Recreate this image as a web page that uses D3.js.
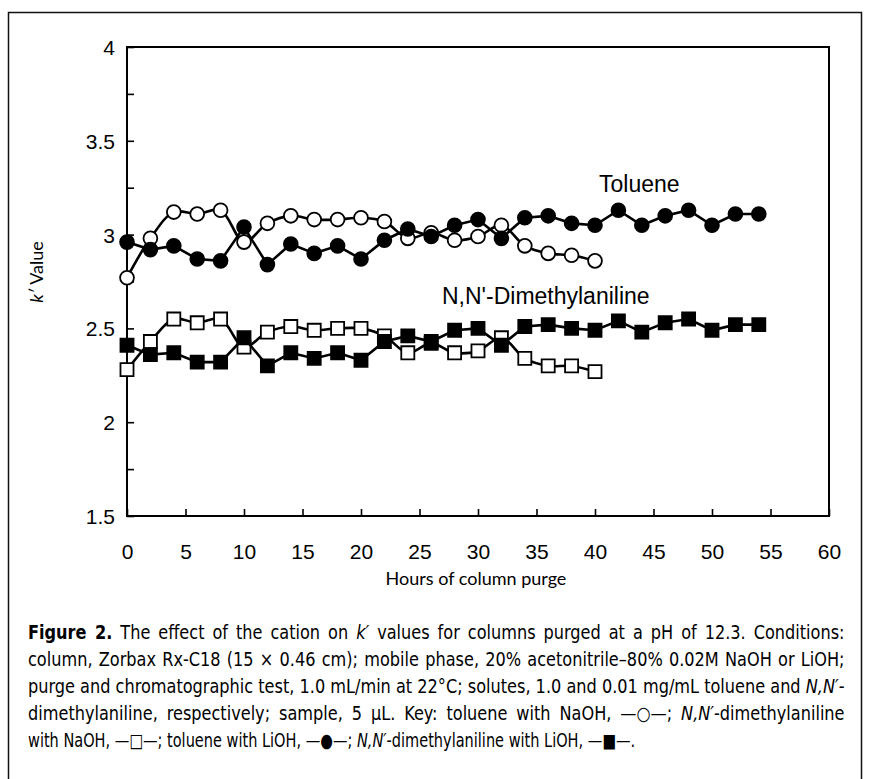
<!DOCTYPE html>
<html>
<head>
<meta charset="utf-8">
<script src="https://cdn.jsdelivr.net/npm/d3@7/dist/d3.min.js"></script>
<style>
  html, body { margin: 0; padding: 0; background: #fff; }
  svg { display: block; }
</style>
</head>
<body>
<svg id="chart" width="869" height="779"></svg>
<script>
// ---- data ----
const hoursNaOH = [0,2,4,6,8,10,12,14,16,18,20,22,24,26,28,30,32,34,36,38,40];
const hoursLiOH = [0,2,4,6,8,10,12,14,16,18,20,22,24,26,28,30,32,34,36,38,40,42,44,46,48,50,52,54];
const tolueneNaOH = [2.77,2.98,3.12,3.11,3.13,2.96,3.06,3.10,3.08,3.08,3.09,3.07,2.98,3.01,2.97,2.99,3.05,2.94,2.90,2.89,2.86];
const tolueneLiOH = [2.96,2.92,2.94,2.87,2.86,3.04,2.84,2.95,2.90,2.94,2.87,2.97,3.03,2.99,3.05,3.08,2.98,3.09,3.10,3.06,3.05,3.13,3.05,3.10,3.13,3.05,3.11,3.11];
const dmaNaOH = [2.28,2.43,2.55,2.53,2.55,2.40,2.48,2.51,2.49,2.50,2.50,2.46,2.37,2.42,2.37,2.38,2.45,2.34,2.30,2.30,2.27];
const dmaLiOH = [2.41,2.36,2.37,2.32,2.32,2.45,2.30,2.37,2.34,2.37,2.33,2.43,2.46,2.43,2.49,2.50,2.41,2.51,2.52,2.50,2.49,2.54,2.48,2.53,2.55,2.49,2.52,2.52];
const xTicks = [0,5,10,15,20,25,30,35,40,45,50,55,60];
const yTicks = [1.5,1.75,2,2.25,2.5,2.75,3,3.25,3.5,3.75,4];
const yLabels = [1.5,2,2.5,3,3.5,4];
const captionLines = [
  [["b","Figure 2."],["n"," The effect of the cation on "],["i","k′"],["n"," values for columns purged at a pH of 12.3. Conditions:"]],
  [["n","column, Zorbax Rx-C18 (15 × 0.46 cm); mobile phase, 20% acetonitrile–80% 0.02M NaOH or LiOH;"]],
  [["n","purge and chromatographic test, 1.0 mL/min at 22°C; solutes, 1.0 and 0.01 mg/mL toluene and "],["i","N,N′"],["n","-"]],
  [["n","dimethylaniline, respectively; sample, 5 µL. Key: toluene with NaOH, —○—; "],["i","N,N′"],["n","-dimethylaniline"]],
  [["n","with NaOH, —□—; toluene with LiOH, —●—; "],["i","N,N′"],["n","-dimethylaniline with LiOH, —■—."]]
];

// ---- layout ----
const svg = d3.select("#chart");
const L = 127, R = 829, T = 47, B = 516;
const x = d3.scaleLinear().domain([0,60]).range([L,R]);
const y = d3.scaleLinear().domain([1.5,4]).range([B,T]);

// outer border (open at bottom)
svg.append("path")
  .attr("d", `M8.5,779 L8.5,12.5 L861.5,12.5 L861.5,779`)
  .attr("fill","none").attr("stroke","#111").attr("stroke-width",1.5);

// plot frame
svg.append("rect").attr("x",L).attr("y",T).attr("width",R-L).attr("height",B-T)
  .attr("fill","none").attr("stroke","#000").attr("stroke-width",2);

const tickFont = "'Liberation Sans', Arial, Helvetica, sans-serif";

// y axis
const yAxis = d3.axisLeft(y).tickValues(yTicks).tickSizeInner(-7).tickSizeOuter(0).tickPadding(12)
  .tickFormat(d => yLabels.includes(d) ? d3.format("")(d) : "");
const gy = svg.append("g").attr("transform",`translate(${L},0)`).call(yAxis);
gy.select(".domain").remove();
gy.selectAll(".tick line").attr("stroke","#000").attr("stroke-width",1.6);
gy.selectAll(".tick text").attr("font-family",tickFont).attr("font-size",21).attr("fill","#000").attr("dy","0.36em");

// x axis
const xAxis = d3.axisBottom(x).tickValues(xTicks).tickSizeInner(-7).tickSizeOuter(0).tickPadding(24)
  .tickFormat(d3.format("d"));
const gx = svg.append("g").attr("transform",`translate(0,${B})`).call(xAxis);
gx.select(".domain").remove();
gx.selectAll(".tick line").attr("stroke","#000").attr("stroke-width",1.6);
gx.selectAll(".tick text").attr("font-family",tickFont).attr("font-size",21).attr("fill","#000").attr("dy","0.9em");

// axis titles
const titleFont = "Lato, 'Open Sans', sans-serif";
svg.append("text").attr("x",476).attr("y",585).attr("text-anchor","middle")
  .attr("font-family",titleFont).attr("font-size",18).attr("fill","#000")
  .text("Hours of column purge");
const yt = svg.append("text").attr("transform","translate(43,272) rotate(-90)").attr("text-anchor","middle")
  .attr("font-family",titleFont).attr("font-size",18).attr("fill","#000");
yt.append("tspan").attr("font-style","italic").text("k′");
yt.append("tspan").text(" Value");

// series
function series(xs, ys, curve, shape, filled) {
  const pts = xs.map((h,i) => [h, ys[i]]);
  svg.append("path").datum(pts)
    .attr("d", d3.line().x(d => x(d[0])).y(d => y(d[1])).curve(curve))
    .attr("fill","none").attr("stroke","#000").attr("stroke-width",2.6);
  const sym = d3.symbol().type(shape).size(shape === d3.symbolCircle ? 150 : 170);
  svg.append("g").selectAll("path").data(pts).join("path")
    .attr("transform", d => `translate(${x(d[0])},${y(d[1])})`)
    .attr("d", sym)
    .attr("fill", filled ? "#000" : "#fff")
    .attr("stroke","#000").attr("stroke-width",1.8);
}
series(hoursNaOH, tolueneNaOH, d3.curveCatmullRom, d3.symbolCircle, false);
series(hoursNaOH, dmaNaOH, d3.curveCatmullRom, d3.symbolSquare, false);
series(hoursLiOH, tolueneLiOH, d3.curveLinear, d3.symbolCircle, true);
series(hoursLiOH, dmaLiOH, d3.curveLinear, d3.symbolSquare, true);

// series labels
svg.append("text").attr("x",599).attr("y",192).attr("font-family",tickFont).attr("font-size",23).attr("fill","#000").text("Toluene");
svg.append("text").attr("x",442).attr("y",304).attr("font-family",tickFont).attr("font-size",23).attr("fill","#000").text("N,N'-Dimethylaniline");

// caption: one common horizontal squeeze (so the widest full line fits),
// the other full lines justified with word spacing, last line slightly tighter
const capFont = "'Liberation Sans Narrow', 'DejaVu Sans Condensed', 'Open Sans', sans-serif";
const capY = [639, 666, 693, 720, 747];
const fullW = 817, lastW = 605;
const capX = 28;
const capTexts = captionLines.map((line, i) => {
  const g = svg.append("g");
  const t = g.append("text").attr("x",0).attr("y",0)
    .attr("font-family",capFont).attr("font-size",19).attr("fill","#000");
  line.forEach(([s, txt]) => {
    const ts = t.append("tspan").text(txt);
    if (s === "b") ts.attr("font-weight","bold");
    if (s === "i") ts.attr("font-style","italic");
  });
  return {g, t, w: t.node().getComputedTextLength(), spaces: line.map(d => d[1]).join("").split(" ").length - 1};
});
const sx = d3.min(capTexts.slice(0,4), c => fullW / c.w);
capTexts.forEach((c, i) => {
  let s = sx;
  if (i === 4) s = Math.max(sx * 0.9, Math.min(sx, lastW / c.w));
  c.g.attr("transform", `translate(${capX},${capY[i]}) scale(${s},1)`);
  if (i < 4) {
    const extra = (fullW / sx - c.w) / c.spaces;
    if (extra > 0.05) c.t.attr("word-spacing", extra.toFixed(3));
  }
});
</script>
</body>
</html>
